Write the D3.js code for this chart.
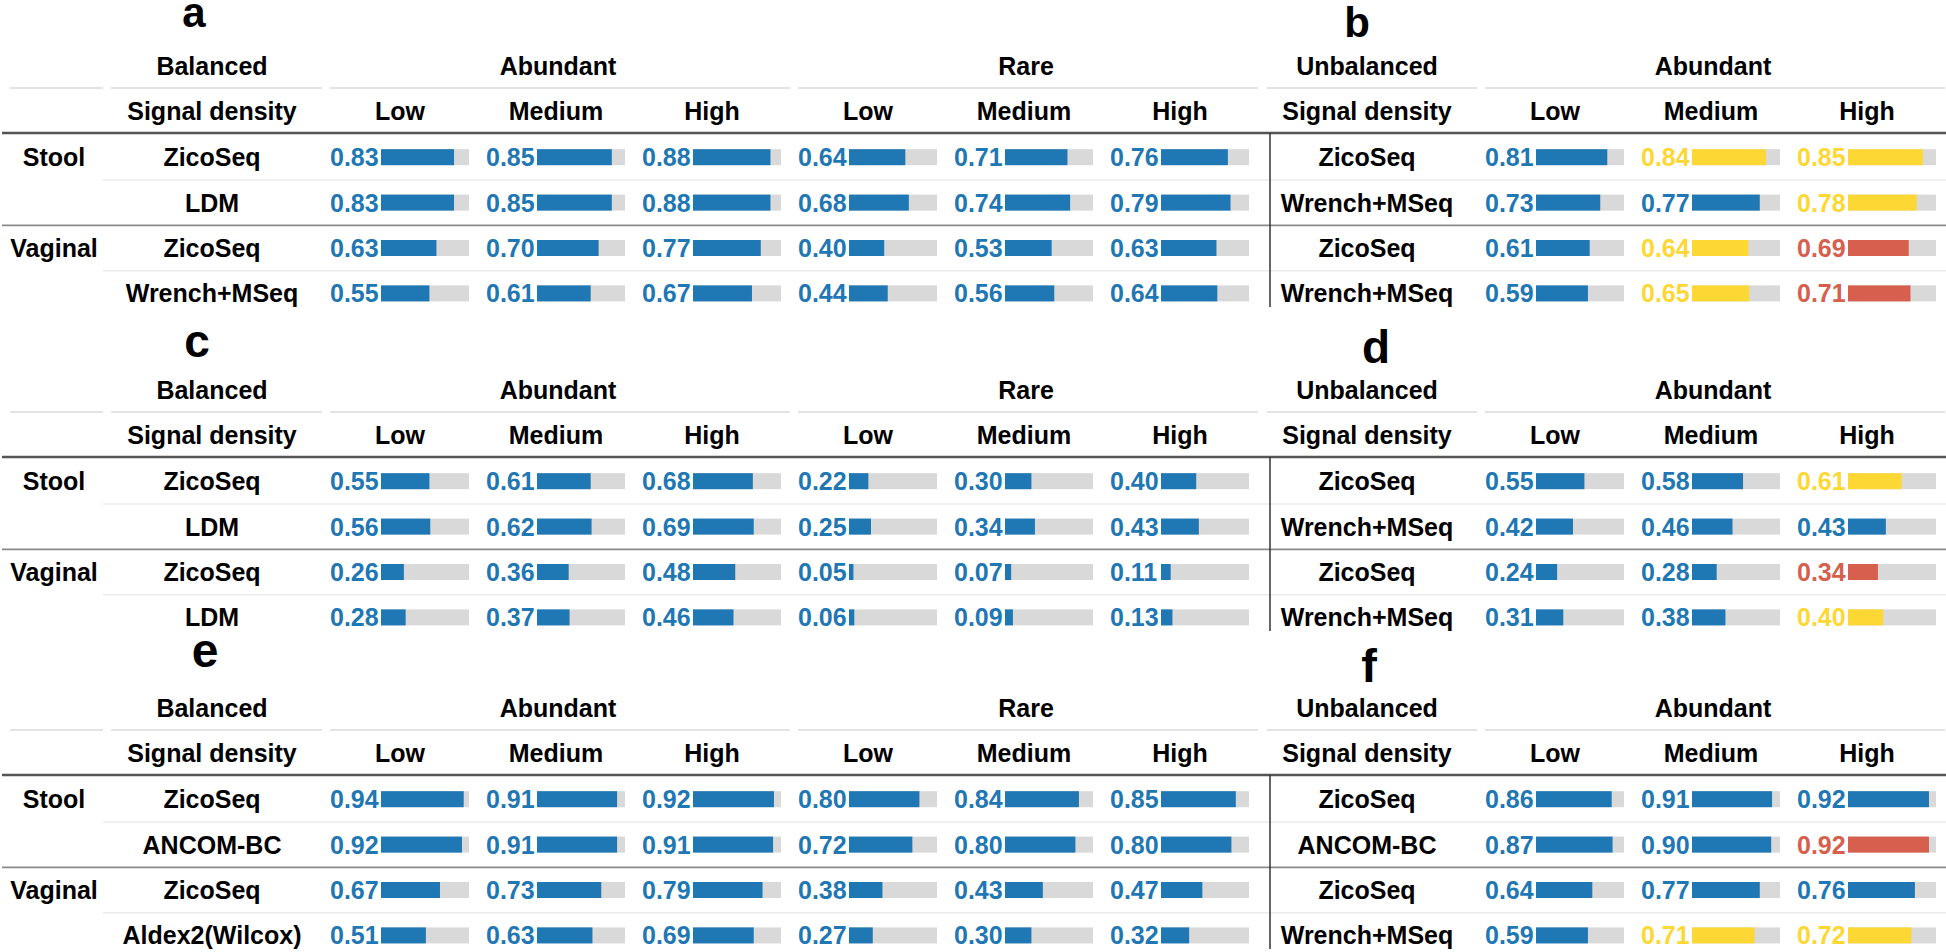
<!DOCTYPE html>
<html><head><meta charset="utf-8">
<script src="https://cdn.jsdelivr.net/npm/d3@7"></script>
<style>
body{margin:0;background:#fff;}
svg{display:block;}
text{font-family:"Liberation Sans",Arial,Helvetica,sans-serif;font-weight:bold;}
</style>
</head><body><svg id="chart" width="1946" height="952"></svg>
<script>
// ---------------- DATA ----------------
const densityLevels = ["Low", "Medium", "High"];
const balancedSpanners = ["Abundant", "Rare"];
const unbalancedSpanners = ["Abundant"];
const sampleGroups = ["Stool", "Vaginal"];

// panel a (Balanced): Abundant Low/Med/High, Rare Low/Med/High
const aMethods = ["ZicoSeq", "LDM", "ZicoSeq", "Wrench+MSeq"];
const aValues = [
  [0.83, 0.85, 0.88, 0.64, 0.71, 0.76],
  [0.83, 0.85, 0.88, 0.68, 0.74, 0.79],
  [0.63, 0.70, 0.77, 0.40, 0.53, 0.63],
  [0.55, 0.61, 0.67, 0.44, 0.56, 0.64]
];
// panel b (Unbalanced): Abundant Low/Med/High
const bMethods = ["ZicoSeq", "Wrench+MSeq", "ZicoSeq", "Wrench+MSeq"];
const bValues = [
  [0.81, 0.84, 0.85],
  [0.73, 0.77, 0.78],
  [0.61, 0.64, 0.69],
  [0.59, 0.65, 0.71]
];
const bFlags = [
  ["n", "y", "y"],
  ["n", "n", "y"],
  ["n", "y", "r"],
  ["n", "y", "r"]
];
// panel c
const cMethods = ["ZicoSeq", "LDM", "ZicoSeq", "LDM"];
const cValues = [
  [0.55, 0.61, 0.68, 0.22, 0.30, 0.40],
  [0.56, 0.62, 0.69, 0.25, 0.34, 0.43],
  [0.26, 0.36, 0.48, 0.05, 0.07, 0.11],
  [0.28, 0.37, 0.46, 0.06, 0.09, 0.13]
];
// panel d
const dMethods = ["ZicoSeq", "Wrench+MSeq", "ZicoSeq", "Wrench+MSeq"];
const dValues = [
  [0.55, 0.58, 0.61],
  [0.42, 0.46, 0.43],
  [0.24, 0.28, 0.34],
  [0.31, 0.38, 0.40]
];
const dFlags = [
  ["n", "n", "y"],
  ["n", "n", "n"],
  ["n", "n", "r"],
  ["n", "n", "y"]
];
// panel e
const eMethods = ["ZicoSeq", "ANCOM-BC", "ZicoSeq", "Aldex2(Wilcox)"];
const eValues = [
  [0.94, 0.91, 0.92, 0.80, 0.84, 0.85],
  [0.92, 0.91, 0.91, 0.72, 0.80, 0.80],
  [0.67, 0.73, 0.79, 0.38, 0.43, 0.47],
  [0.51, 0.63, 0.69, 0.27, 0.30, 0.32]
];
// panel f
const fMethods = ["ZicoSeq", "ANCOM-BC", "ZicoSeq", "Wrench+MSeq"];
const fValues = [
  [0.86, 0.91, 0.92],
  [0.87, 0.90, 0.92],
  [0.64, 0.77, 0.76],
  [0.59, 0.71, 0.72]
];
const fFlags = [
  ["n", "n", "n"],
  ["n", "n", "r"],
  ["n", "n", "n"],
  ["n", "y", "y"]
];

// ---------------- STYLE / LAYOUT ----------------
const COLORS = {n: "#1f77b4", y: "#fdd835", r: "#d6604d"};
const TRACK = "#d9d9d9";
const W = 1946;
const FONT = 25;
const CELL_W = 156;
const BAR_OFF = 55, BAR_W = 88, BAR_H = 16;

const svg = d3.select("#chart");
const barScale = d3.scaleLinear().domain([0, 1]).range([0, BAR_W]);

function hline(x1, x2, y, color, w) {
  svg.append("line").attr("x1", x1).attr("x2", x2).attr("y1", y).attr("y2", y)
    .attr("stroke", color).attr("stroke-width", w);
}
function label(x, y, txt, opts = {}) {
  return svg.append("text").attr("x", x).attr("y", y)
    .attr("text-anchor", opts.anchor || "middle")
    .attr("font-size", opts.size || FONT)
    .attr("fill", opts.fill || "#000")
    .text(txt);
}

function drawPanel(cfg) {
  const T = cfg.top;
  const nCols = cfg.values[0].length;
  const colScale = d3.scaleBand().domain(d3.range(nCols))
    .range([cfg.dataLeft, cfg.dataLeft + CELL_W * nCols]).padding(0);
  const rowScale = d3.scaleBand().domain(d3.range(cfg.values.length))
    .range([T + 68.5, T + 68.5 + 45.4 * cfg.values.length]).padding(0);
  const rc = i => rowScale(i) + rowScale.bandwidth() / 2;

  // spanner row
  const spY = T + 9;
  label(cfg.labelCenter, spY, cfg.spannerLabel);
  const segs = [];
  if (cfg.groupCol) segs.push(cfg.groupCol);
  segs.push([cfg.labelLeft, cfg.dataLeft]);
  cfg.spanners.forEach((s, k) => {
    const L = colScale(k * 3), R = colScale(k * 3 + 2) + CELL_W;
    segs.push([L, Math.min(R, W + 4)]);
    label((L + R) / 2 - 2, spY, s);
  });
  segs.forEach(([L, R]) => hline(L + 4, R - 4, T + 22, "#e3e3e3", 2));

  // column header row
  const hY = T + 45 + 9;
  label(cfg.labelCenter, hY, "Signal density");
  d3.range(nCols).forEach(j => {
    label(colScale(j) + CELL_W / 2 - 4, hY, densityLevels[j % 3]);
  });

  // group labels
  if (cfg.groupCol) {
    sampleGroups.forEach((g, k) => label(cfg.groupCenter, rc(k * 2) + 9, g));
  }
  // method labels
  cfg.methods.forEach((m, i) => label(cfg.labelCenter, rc(i) + 9, m));

  // cells
  cfg.values.forEach((row, i) => {
    row.forEach((v, j) => {
      const flag = cfg.flags ? cfg.flags[i][j] : "n";
      const col = COLORS[flag];
      const x0 = colScale(j);
      const y = rc(i);
      label(x0 + 4, y + 9, d3.format(".2f")(v), {anchor: "start", fill: col});
      svg.append("rect").attr("x", x0 + BAR_OFF).attr("y", y - BAR_H / 2)
        .attr("width", barScale(1)).attr("height", BAR_H).attr("fill", TRACK);
      svg.append("rect").attr("x", x0 + BAR_OFF).attr("y", y - BAR_H / 2)
        .attr("width", barScale(v)).attr("height", BAR_H).attr("fill", col);
    });
  });

  if (cfg.vline) {
    svg.append("line").attr("x1", cfg.vline).attr("x2", cfg.vline)
      .attr("y1", T + 67).attr("y2", T + 241).attr("stroke", "#333").attr("stroke-width", 1.5);
  }
  // panel letter
  label(cfg.letter.x, cfg.letter.y, cfg.letter.t, {size: cfg.letter.size});
}

function drawRowLines(T) {
  const rowScale = d3.scaleBand().domain(d3.range(4)).range([T + 68.5, T + 68.5 + 45.4 * 4]);
  hline(103, W, rowScale(1), "#ececec", 1.5);
  hline(103, W, rowScale(3), "#ececec", 1.5);
  hline(2, W, rowScale(2), "#8a8a8a", 1.8);
  hline(2, W, T + 67, "#555", 2.5);
}

const tops = [66, 390, 708];
tops.forEach(drawRowLines);

const balancedPanels = [
  {top: tops[0], methods: aMethods, values: aValues, letter: {t: "a", x: 194, y: 27, size: 42}},
  {top: tops[1], methods: cMethods, values: cValues, letter: {t: "c", x: 197, y: 357, size: 46}},
  {top: tops[2], methods: eMethods, values: eValues, letter: {t: "e", x: 205, y: 667, size: 48}}
];
balancedPanels.forEach(p => drawPanel(Object.assign({
  spannerLabel: "Balanced", spanners: balancedSpanners,
  groupCol: [6, 107], groupCenter: 54,
  labelLeft: 107, dataLeft: 326, labelCenter: 212
}, p)));

const unbalancedPanels = [
  {top: tops[0], methods: bMethods, values: bValues, flags: bFlags, letter: {t: "b", x: 1357, y: 37, size: 42}},
  {top: tops[1], methods: dMethods, values: dValues, flags: dFlags, letter: {t: "d", x: 1376, y: 363, size: 46}},
  {top: tops[2], methods: fMethods, values: fValues, flags: fFlags, letter: {t: "f", x: 1369, y: 682, size: 47}}
];
unbalancedPanels.forEach(p => drawPanel(Object.assign({
  spannerLabel: "Unbalanced", spanners: unbalancedSpanners,
  groupCol: null, labelLeft: 1263, dataLeft: 1481, labelCenter: 1367, vline: 1270
}, p)));
</script>
</body></html>
